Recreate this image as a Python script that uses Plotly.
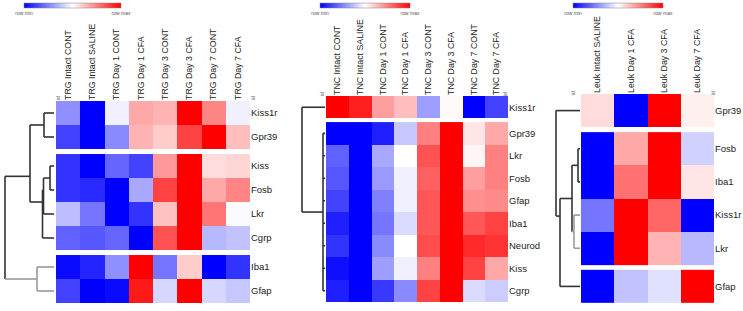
import plotly.graph_objects as go

# ---------------- DATA ----------------
trg_cols = ["TRG Intact CONT", "TRG Intact SALINE", "TRG Day 1 CONT", "TRG Day 1 CFA",
            "TRG Day 3 CONT", "TRG Day 3 CFA", "TRG Day 7 CONT", "TRG Day 7 CFA"]
trg_rows = ["Kiss1r", "Gpr39", "Kiss", "Fosb", "Lkr", "Cgrp", "Iba1", "Gfap"]
trg_groups = [2, 4, 2]
trg_values = [
    [0.28, 0.00, 0.47, 0.67, 0.65, 1.00, 0.74, 0.47],
    [0.13, 0.00, 0.27, 0.65, 0.60, 0.87, 1.00, 0.63],
    [0.10, 0.00, 0.20, 0.13, 0.70, 1.00, 0.57, 0.58],
    [0.10, 0.08, 0.00, 0.33, 0.87, 1.00, 0.67, 0.74],
    [0.37, 0.23, 0.00, 0.10, 0.62, 1.00, 0.77, 0.49],
    [0.19, 0.17, 0.20, 0.00, 0.84, 1.00, 0.36, 0.38],
    [0.02, 0.07, 0.28, 1.00, 0.23, 0.60, 0.00, 0.10],
    [0.13, 0.00, 0.02, 0.95, 0.42, 1.00, 0.42, 0.39],
]
# dendrogram: (height, children, colour)
trg_tree = (49, [
    (24, [(10, ["Kiss1r", "Gpr39"], "dark"),
          (11.5, [(10.5, [(4, ["Kiss", "Fosb"], "dark"), "Lkr"], "dark"), "Cgrp"], "dark")], "dark"),
    (17, ["Iba1", "Gfap"], "gray"),
], "dark")

tnc_cols = ["TNC Intact CONT", "TNC Intact SALINE", "TNC Day 1 CONT", "TNC Day 1 CFA",
            "TNC Day 3 CONT", "TNC Day 3 CFA", "TNC Day 7 CONT", "TNC Day 7 CFA"]
tnc_rows = ["Kiss1r", "Gpr39", "Lkr", "Fosb", "Gfap", "Iba1", "Neurod", "Kiss", "Cgrp"]
tnc_groups = [1, 8]
tnc_values = [
    [1.00, 0.94, 0.69, 0.63, 0.31, 0.51, 0.00, 0.13],
    [0.00, 0.00, 0.06, 0.39, 0.75, 1.00, 0.55, 0.67],
    [0.19, 0.00, 0.33, 0.50, 0.84, 1.00, 0.52, 0.75],
    [0.17, 0.00, 0.30, 0.47, 0.81, 1.00, 0.69, 0.75],
    [0.13, 0.00, 0.25, 0.47, 0.83, 1.00, 0.72, 0.73],
    [0.06, 0.00, 0.23, 0.43, 0.83, 1.00, 0.83, 0.87],
    [0.10, 0.00, 0.27, 0.50, 0.85, 1.00, 0.92, 0.90],
    [0.03, 0.00, 0.31, 0.47, 0.75, 1.00, 0.87, 0.67],
    [0.06, 0.00, 0.11, 0.27, 0.87, 1.00, 0.43, 0.40],
]
tnc_tree = (23, ["Kiss1r",
                 (2, ["Gpr39", "Lkr", "Fosb", "Gfap", "Iba1", "Neurod", "Kiss", "Cgrp"], "dark")],
            "dark")

leuk_cols = ["Leuk Intact SALINE", "Leuk Day 1 CFA", "Leuk Day 3 CFA", "Leuk Day 7 CFA"]
leuk_rows = ["Gpr39", "Fosb", "Iba1", "Kiss1r", "Lkr", "Gfap"]
leuk_groups = [1, 4, 1]
leuk_values = [
    [0.57, 0.00, 1.00, 0.53],
    [0.00, 0.67, 1.00, 0.41],
    [0.00, 0.78, 1.00, 0.55],
    [0.23, 1.00, 0.80, 0.00],
    [0.00, 1.00, 0.65, 0.36],
    [0.00, 0.38, 0.44, 1.00],
]
leuk_tree = (24, ["Gpr39",
                  (20, [(8, [(2, ["Fosb", "Iba1"], "dark"),
                             (6, ["Kiss1r", "Lkr"], "gray")], "dark"),
                        "Gfap"], "dark")],
             "dark")

# ---------------- STYLE ----------------
W, H = 743, 311
FONT = "Liberation Sans, Arial, sans-serif"
SCALE = [[0, "#0000ff"], [0.5, "#ffffff"], [1, "#ff0000"]]
LINE_COL = {"dark": "#333333", "gray": "#9a9a9a"}

panels = [
    dict(cols=trg_cols, rows=trg_rows, groups=trg_groups, vals=trg_values, tree=trg_tree,
         hx=(56, 250), hy=(101, 303), gap=0.21, dx=(0, 54), cb=(24, 121),
         ids=[(53, 94), (253, 94)]),
    dict(cols=tnc_cols, rows=tnc_rows, groups=tnc_groups, vals=tnc_values, tree=tnc_tree,
         hx=(326, 508), hy=(96, 302), gap=0.16, dx=(280, 325), cb=(320, 410),
         ids=[(322, 90), (510, 90)]),
    dict(cols=leuk_cols, rows=leuk_rows, groups=leuk_groups, vals=leuk_values, tree=leuk_tree,
         hx=(581, 714), hy=(94, 303), gap=0.15, dx=(530, 580), cb=(573, 663),
         ids=[(578, 89), (718, 89)]),
]


def px_x(a, b):
    return [a / W, b / W]


def px_y(top, bot):
    return [1 - bot / H, 1 - top / H]


fig = go.Figure()
layout = dict(width=W, height=H, margin=dict(l=0, r=0, t=0, b=0, autoexpand=False),
              paper_bgcolor="white", plot_bgcolor="white", showlegend=False,
              font=dict(family=FONT, color="#222222"))
annotations = []

for i, p in enumerate(panels):
    n = i + 1
    hxname = "x" if i == 0 else f"x{2 * i + 1}"
    dxname = f"x{2 * i + 2}"
    yname = "y" if i == 0 else f"y{n}"
    caname = "coloraxis" if i == 0 else f"coloraxis{n}"

    # row positions with gaps between clusters
    centers = {}
    start = 0.0
    r = 0
    for g in p["groups"]:
        edges = [start + k for k in range(g + 1)]
        rows = p["rows"][r:r + g]
        for k, name in enumerate(rows):
            centers[name] = start + k + 0.5
        fig.add_trace(go.Heatmap(
            z=p["vals"][r:r + g], x=p["cols"], y=edges,
            coloraxis=caname, xaxis=hxname, yaxis=yname, hoverinfo="skip"))
        r += g
        start += g + p["gap"]
    total = start - p["gap"]

    # dendrogram segments
    segs = {"dark": ([], []), "gray": ([], [])}

    def leaves(node):
        if isinstance(node, str):
            return [node]
        out = []
        for c in node[1]:
            out += leaves(c)
        return out

    def draw(node):
        if isinstance(node, str):
            return centers[node], 0.0
        h, children, col = node
        ys = []
        for c in children:
            cy, ch = draw(c)
            ccol = col if isinstance(c, str) else c[2]
            xs, yy = segs[ccol]
            xs += [ch, h, None]
            yy += [cy, cy, None]
            ys.append(cy)
        xs, yy = segs[col]
        xs += [h, h, None]
        yy += [min(ys), max(ys), None]
        lv = leaves(node)
        return sum(centers[l] for l in lv) / len(lv), h

    draw(p["tree"])
    for col, (xs, yy) in segs.items():
        if xs:
            fig.add_trace(go.Scatter(x=xs, y=yy, mode="lines", xaxis=dxname, yaxis=yname,
                                     line=dict(color=LINE_COL[col], width=1.6),
                                     hoverinfo="skip"))

    layout["xaxis" if i == 0 else f"xaxis{2 * i + 1}"] = dict(
        domain=px_x(*p["hx"]), anchor=yname, side="top", tickangle=-90,
        showgrid=False, zeroline=False, showline=False, ticks="",
        tickfont=dict(size=8.8, color="#222222", family=FONT), fixedrange=True)
    layout[f"xaxis{2 * i + 2}"] = dict(
        domain=px_x(*p["dx"]), anchor=yname, range=[p["dx"][1] - p["dx"][0], 0],
        visible=False, fixedrange=True)
    layout["yaxis" if i == 0 else f"yaxis{n}"] = dict(
        domain=px_y(*p["hy"]), anchor=hxname, side="right", range=[total, 0],
        tickvals=[centers[rw] for rw in p["rows"]], ticktext=p["rows"],
        showgrid=False, zeroline=False, showline=False, ticks="",
        tickfont=dict(size=9.5, color="#222222", family=FONT), fixedrange=True)
    cx = (p["cb"][0] + p["cb"][1]) / 2 / W
    layout[caname] = dict(
        cmin=0, cmax=1, colorscale=SCALE,
        colorbar=dict(orientation="h", x=cx, xanchor="center", y=1 - 3 / H, yanchor="top",
                      len=p["cb"][1] - p["cb"][0], lenmode="pixels", thickness=5,
                      thicknessmode="pixels", xpad=0, ypad=0, outlinewidth=0.5,
                      outlinecolor="#888888", tickvals=[0, 1],
                      ticktext=["row min", "row max"], ticks="", ticklen=0,
                      tickfont=dict(size=5, color="#555555", family=FONT)))
    for (ax, ay) in p["ids"]:
        annotations.append(dict(x=ax / W, y=1 - ay / H, xref="paper", yref="paper",
                                text="id", showarrow=False, textangle=-90,
                                font=dict(size=5, color="#666666", family=FONT)))

layout["annotations"] = annotations
fig.update_layout(**layout)
fig.write_html("out.html", config={"displayModeBar": False},
               post_script="document.body.style.margin='0px';document.body.style.overflow='hidden';")
